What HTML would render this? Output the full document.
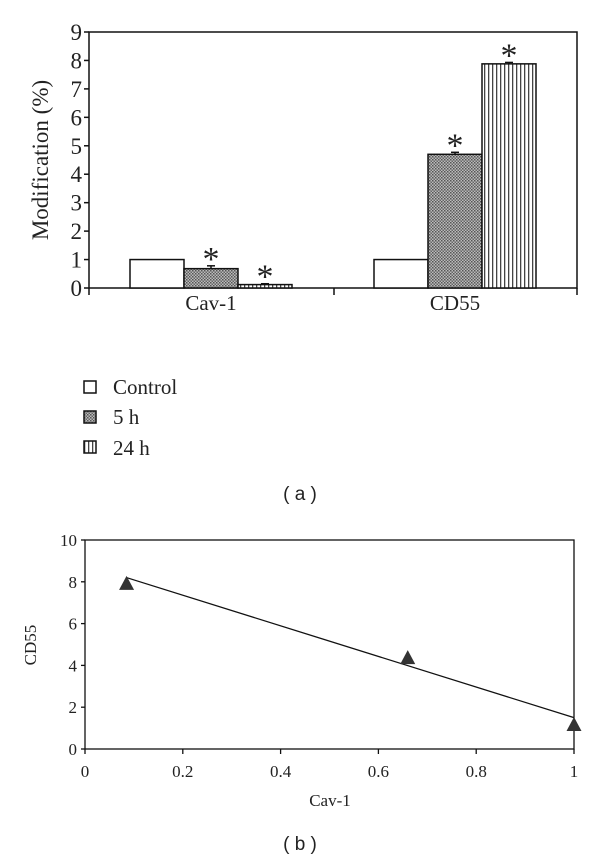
<!DOCTYPE html>
<html><head><meta charset="utf-8"><style>
body{margin:0;background:#fff;width:600px;height:858px;overflow:hidden}
svg{display:block}
text{font-family:"Liberation Serif",serif;fill:#222}
</style></head><body>
<svg width="600" height="858">
<defs>
<pattern id="dots" width="3" height="3" patternUnits="userSpaceOnUse"><rect width="3" height="3" fill="#bbb"/><rect width="1.5" height="1.5" fill="#555"/><rect x="1.5" y="1.5" width="1.5" height="1.5" fill="#666"/></pattern>
<pattern id="vlines" width="4" height="4" patternUnits="userSpaceOnUse"><rect width="4" height="4" fill="#fff"/><rect width="1.3" height="4" fill="#444"/></pattern>
</defs>
<g id="chartA"></g>
<g id="legend">
<rect x="84" y="381" width="12" height="12" fill="#fff" stroke="#111" stroke-width="1.5"/>
<text x="113" y="394" font-size="21">Control</text>
<rect x="84" y="411" width="12" height="12" fill="url(#dots)" stroke="#111" stroke-width="1.5"/>
<text x="113" y="424" font-size="21">5 h</text>
<rect x="84" y="441" width="12" height="12" fill="url(#vlines)" stroke="#111" stroke-width="1.5"/>
<text x="113" y="455" font-size="21">24 h</text>
</g>
<text x="300" y="500" font-size="19" text-anchor="middle" style="font-family:'Liberation Sans',sans-serif">( a )</text>
<g id="chartB"></g>
<text x="300" y="850" font-size="19" text-anchor="middle" style="font-family:'Liberation Sans',sans-serif">( b )</text>
</svg>
<script>
const categories=["Cav-1","CD55"];
const controlVals=[1,1];
const h5Vals=[0.68,4.7];
const h24Vals=[0.12,7.88];
const errVals5=[0.1,0.07];
const errVals24=[0.03,0.05];
const yTicksA=[0,1,2,3,4,5,6,7,8,9];

const scatterX=[0.085,0.66,1];
const scatterY=[7.9,4.35,1.15];
const fitLine=[[0.085,8.2],[1,1.5]];
const xTicksB=[0,0.2,0.4,0.6,0.8,1];
const yTicksB=[0,2,4,6,8,10];

const NS="http://www.w3.org/2000/svg";
function mk(p,tag,at,txt){const e=document.createElementNS(NS,tag);for(const k in at)e.setAttribute(k,at[k]);if(txt!==undefined)e.textContent=txt;p.appendChild(e);return e;}

// Chart A
const A=document.getElementById('chartA');
const ax0=89,ax1=577,ay0=288,ay1=32;
const ya=v=>ay0-(ay0-ay1)*v/9;
mk(A,'rect',{x:ax0,y:ay1,width:ax1-ax0,height:ay0-ay1,fill:'none',stroke:'#111','stroke-width':1.5});
yTicksA.forEach(t=>{
 const l=mk(A,'line',{x1:ax0-5,x2:ax0,y1:ya(t),y2:ya(t),stroke:'#111','stroke-width':1.5});
 
 
 const tx=mk(A,'text',{x:ax0-7,y:ya(t)+8,'font-size':23,'text-anchor':'end'},t);
 
 
});
[ax0,334,ax1].forEach(x=>{mk(A,'line',{x1:x,x2:x,y1:ay0,y2:ay0+7,stroke:'#111','stroke-width':1.5});});
const yt=mk(A,'text',{x:0,y:0,'font-size':23,'text-anchor':'middle',transform:'translate(48,160) rotate(-90)'},'Modification (%)');


const groupW=(ax1-ax0)/categories.length;
const barW=54;
categories.forEach((c,i)=>{
 const cx=ax0+groupW*(i+0.5);
 const ct=mk(A,'text',{x:cx,y:310,'font-size':21,'text-anchor':'middle'},c);
 
 
 const series=[[controlVals[i],'#fff',null,'control'],[h5Vals[i],'url(#dots)',errVals5[i],'5h'],[h24Vals[i],'url(#vlines)',errVals24[i],'24h']];
 series.forEach((s,j)=>{
  const x=cx-barW*1.5+j*barW;
  const b=mk(A,'rect',{x:x,y:ya(s[0]),width:barW,height:ay0-ya(s[0]),fill:s[1],stroke:'#111','stroke-width':1.5});
  
  
  if(s[2]!==null){
   const ey=ya(s[0]+s[2]);
   mk(A,'line',{x1:x+barW/2,x2:x+barW/2,y1:ya(s[0]),y2:ey,stroke:'#111','stroke-width':1.5});
   mk(A,'line',{x1:x+barW/2-4,x2:x+barW/2+4,y1:ey,y2:ey,stroke:'#111','stroke-width':1.5});
   const st=mk(A,'text',{x:x+barW/2,y:ey+4,'font-size':34,'text-anchor':'middle'},'*');
   
   
  }
 });
});

// Chart B
const B=document.getElementById('chartB');
const bx0=85,bx1=574,by0=749,by1=540;
const xb=v=>bx0+(bx1-bx0)*v;
const yb=v=>by0-(by0-by1)*v/10;
mk(B,'rect',{x:bx0,y:by1,width:bx1-bx0,height:by0-by1,fill:'none',stroke:'#111','stroke-width':1.3});
yTicksB.forEach(t=>{
 mk(B,'line',{x1:bx0-4,x2:bx0,y1:yb(t),y2:yb(t),stroke:'#111','stroke-width':1.3});
 const tx=mk(B,'text',{x:bx0-8,y:yb(t)+6,'font-size':17,'text-anchor':'end'},t);
 
 
});
xTicksB.forEach(t=>{
 mk(B,'line',{x1:xb(t),x2:xb(t),y1:by0,y2:by0+5,stroke:'#111','stroke-width':1.3});
 const tx=mk(B,'text',{x:xb(t),y:777,'font-size':17,'text-anchor':'middle'},t);
 
 
});
const xl=mk(B,'text',{x:330,y:806,'font-size':17,'text-anchor':'middle'},'Cav-1');


const yl=mk(B,'text',{x:0,y:0,'font-size':17,'text-anchor':'middle',transform:'translate(36,645) rotate(-90)'},'CD55');


const fl=mk(B,'line',{x1:xb(fitLine[0][0]),y1:yb(fitLine[0][1]),x2:xb(fitLine[1][0]),y2:yb(fitLine[1][1]),stroke:'#111','stroke-width':1.3});


scatterX.forEach((x,i)=>{
 const px=xb(x),py=yb(scatterY[i]);
 const p=mk(B,'polygon',{points:`${px},${py-8} ${px-7.5},${py+6} ${px+7.5},${py+6}`,fill:'#333'});
 
 
});
</script>
</body></html>
